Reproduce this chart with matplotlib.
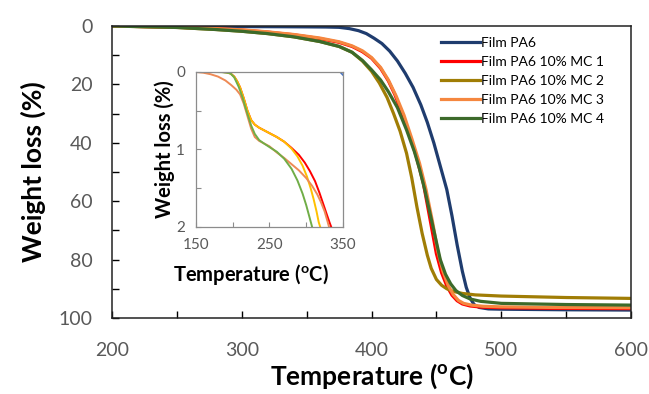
import matplotlib
matplotlib.use("Agg")
import matplotlib.pyplot as plt

plt.rcParams['font.family'] = ['Lato', 'DejaVu Sans']
plt.rcParams['mathtext.fontset'] = 'custom'
plt.rcParams['mathtext.rm'] = 'Lato'
plt.rcParams['mathtext.bf'] = 'Lato:bold'

# main TGA curves (temperature in C, weight loss in %)
t_pa6 = [200, 250, 300, 330, 350, 365, 375, 383, 390, 396, 402, 408, 414, 420, 426, 432,
         438, 443, 448, 453, 458, 462, 466, 470, 473, 476, 479, 483, 490, 500, 550, 600]
w_pa6 = [0, 0.1, 0.2, 0.25, 0.3, 0.35, 0.45, 0.9, 1.6, 2.6, 4.2, 6.0, 8.6, 12, 16.2, 21,
         27, 33, 40, 48, 56, 65, 75, 84, 89.5, 93.2, 95.4, 96.4, 96.9, 97, 97.2, 97.3]

t_mc1 = [200, 250, 280, 300, 320, 340, 360, 375, 385, 393, 400, 407, 413, 418, 424, 430,
         435, 440, 445, 450, 454, 458, 462, 466, 470, 476, 485, 500, 540, 600]
w_mc1 = [0, 0.4, 0.9, 1.4, 2.1, 3.0, 4.3, 5.6, 7.0, 8.8, 11, 14.5, 18.8, 23.5, 30.5, 38,
         45.5, 54, 66, 78, 84.5, 89, 92.2, 94.1, 95.2, 95.9, 96.3, 96.5, 96.7, 96.8]

t_mc2 = [200, 250, 280, 300, 320, 340, 360, 375, 385, 393, 400, 406, 412, 417, 422, 427,
         431, 435, 439, 443, 446, 450, 454, 458, 463, 470, 480, 500, 550, 600]
w_mc2 = [0, 0.5, 1.2, 1.8, 2.6, 3.7, 5.3, 7.0, 9.0, 12, 15.5, 19.5, 24.5, 30, 36, 43.6,
         52, 62, 71, 78.5, 83, 86.8, 88.8, 90, 90.9, 91.6, 92.1, 92.5, 93, 93.3]

t_mc3 = [200, 250, 280, 300, 320, 340, 360, 375, 385, 393, 400, 407, 413, 419, 425, 431,
         437, 442, 447, 451, 455, 459, 463, 467, 471, 477, 486, 500, 540, 600]
w_mc3 = [0, 0.4, 0.9, 1.3, 2.0, 2.9, 4.1, 5.4, 6.8, 8.5, 10.8, 14.2, 18.5, 24, 30.5, 38.5,
         47, 56, 67, 77, 84, 88.8, 92, 94, 95, 95.6, 96.0, 96.2, 96.4, 96.5]

t_mc4 = [200, 250, 280, 300, 320, 340, 360, 375, 385, 393, 400, 407, 413, 420, 427, 433,
         437, 441, 445, 449, 453, 457, 461, 465, 470, 476, 484, 500, 550, 600]
w_mc4 = [0, 0.5, 1.2, 1.8, 2.6, 3.7, 5.3, 7.0, 9.0, 11.8, 15, 18.5, 22.5, 28, 35.6, 43,
         49, 56, 64, 72, 80, 85, 88.3, 90.6, 92.3, 93.5, 94.3, 95, 95.4, 95.6]

labels = ['Film PA6', 'Film PA6 10% MC 1', 'Film PA6 10% MC 2',
          'Film PA6 10% MC 3', 'Film PA6 10% MC 4']
colors = ['#1F3C6E', '#FF0000', '#A07D05', '#F5873F', '#3C6A2A']

# inset zoom on the early weight loss
ti_red = [185, 192, 197, 202, 206, 210, 215, 220, 225, 230, 236, 242, 250, 260, 270, 280,
          290, 298, 305, 312, 318, 323, 328, 332, 334]
wi_red = [0, 0.005, 0.02, 0.06, 0.12, 0.2, 0.34, 0.5, 0.62, 0.68, 0.72, 0.75, 0.79, 0.84, 0.9, 0.98,
          1.07, 1.17, 1.28, 1.41, 1.56, 1.7, 1.84, 1.95, 2.0]
ti_yel = [185, 192, 197, 202, 206, 210, 215, 220, 225, 230, 236, 242, 250, 260, 270, 280,
          288, 295, 301, 306, 310, 314, 317, 319]
wi_yel = [0, 0.005, 0.02, 0.06, 0.12, 0.2, 0.34, 0.5, 0.62, 0.68, 0.72, 0.75, 0.79, 0.84, 0.9, 0.99,
          1.09, 1.21, 1.35, 1.5, 1.64, 1.8, 1.94, 2.0]
ti_org = [150, 160, 170, 180, 190, 198, 205, 210, 215, 220, 225, 230, 236, 242, 250, 260,
          270, 280, 290, 300, 308, 315, 320, 325, 329, 331]
wi_org = [0, 0.01, 0.03, 0.06, 0.11, 0.17, 0.23, 0.29, 0.41, 0.57, 0.73, 0.84, 0.89, 0.92, 0.96, 1.04,
          1.11, 1.19, 1.27, 1.37, 1.47, 1.58, 1.68, 1.8, 1.93, 2.0]
ti_grn = [170, 185, 192, 197, 202, 208, 213, 217, 221, 225, 230, 236, 242, 250, 260, 270,
          280, 288, 295, 300, 304, 308]
wi_grn = [0, 0.003, 0.01, 0.02, 0.07, 0.19, 0.32, 0.45, 0.57, 0.69, 0.8, 0.88, 0.92, 0.97, 1.03, 1.12,
          1.25, 1.4, 1.57, 1.72, 1.86, 2.0]
ti_blu = [346, 350]
wi_blu = [0, 0.04]

gray = '#595959'

fig = plt.figure(figsize=(6.49, 3.94), dpi=100)
ax = fig.add_axes([0.1726, 0.193, 0.7997, 0.741])

series = [(t_pa6, w_pa6), (t_mc1, w_mc1), (t_mc2, w_mc2), (t_mc3, w_mc3), (t_mc4, w_mc4)]
for (t, w), c, lab in zip(series, colors, labels):
    ax.plot(t, w, color=c, lw=2.3, label=lab, solid_joinstyle='round')

ax.set_xlim(200, 600)
ax.set_ylim(100, 0)
ax.set_xticks(range(200, 601, 100))
ax.set_xticks(range(250, 600, 100), minor=True)
ax.set_yticks(range(0, 101, 20))
ax.set_yticks(range(10, 100, 20), minor=True)
ax.tick_params(which='both', direction='in', length=5, width=1, colors='black',
               labelcolor=gray, labelsize=14)
ax.tick_params(axis='x', pad=17)
ax.tick_params(axis='y', pad=14)
for s in ax.spines.values():
    s.set_color('#222222')
    s.set_linewidth(1.1)

ax.set_xlabel(r'Temperature ($^{\mathbf{o}}$C)', fontsize=19, fontweight='bold', labelpad=2)
ax.set_ylabel('Weight loss (%)', fontsize=19, fontweight='bold', labelpad=9)

ax.legend(loc='upper right', bbox_to_anchor=(0.972, 1.005), frameon=False, fontsize=10,
          handlelength=2.8, handletextpad=0.1, labelspacing=0.5)

# inset
ins = fig.add_axes([0.302, 0.424, 0.2265, 0.3934])
ins.plot(ti_red, wi_red, color='#FF0000', lw=1.4)
ins.plot(ti_yel, wi_yel, color='#FFC000', lw=1.4)
ins.plot(ti_org, wi_org, color='#EE8A55', lw=1.4)
ins.plot(ti_grn, wi_grn, color='#70AD47', lw=1.4)
ins.plot(ti_blu, wi_blu, color='#4472C4', lw=1.2)
ins.set_xlim(150, 350)
ins.set_ylim(2, 0)
ins.set_xticks([150, 250, 350])
ins.set_xticks([200, 300], minor=True)
ins.set_yticks([0, 1, 2])
ins.set_yticks([0.5, 1.5], minor=True)
ins.tick_params(which='both', direction='in', length=3.5, width=0.8, colors='#8C8C8C',
                labelcolor=gray, labelsize=11)
ins.tick_params(axis='x', pad=8)
ins.tick_params(axis='y', pad=8)
for s in ins.spines.values():
    s.set_color('#8C8C8C')
    s.set_linewidth(0.9)
ins.set_xlabel(r'Temperature ($^{\mathbf{o}}$C)', fontsize=14.5, fontweight='bold')
ins.xaxis.set_label_coords(0.374, -0.225)
ins.set_ylabel('Weight loss (%)', fontsize=14.5, fontweight='bold', labelpad=1)

fig.savefig('out.png', dpi=100)
